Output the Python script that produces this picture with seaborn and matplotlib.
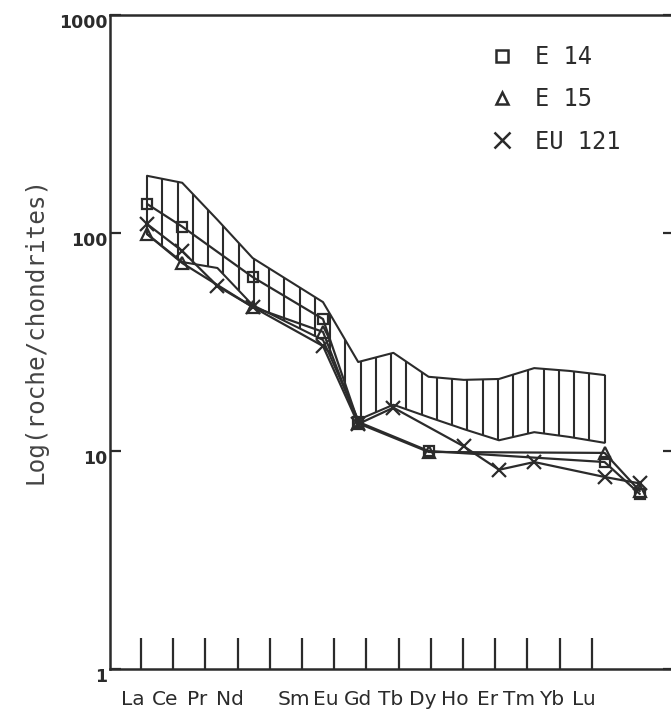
import numpy as np
import pandas as pd
import matplotlib
matplotlib.use("Agg")
import matplotlib.pyplot as plt
import matplotlib.transforms as mtransforms
import seaborn as sns
from matplotlib.lines import Line2D

sns.set_theme(style="white")
plt.rcParams['font.family'] = ['DejaVu Sans']

# REE order (Pm kept as an empty slot)
elements = ["La", "Ce", "Pr", "Nd", "Pm", "Sm", "Eu", "Gd", "Tb", "Dy", "Ho", "Er", "Tm", "Yb", "Lu"]
tick_labels = ["La", "Ce", "Pr", "Nd", "", "Sm", "Eu", "Gd", "Tb", "Dy", "Ho", "Er", "Tm", "Yb", "Lu"]
nan = np.nan

# chondrite-normalised values
e14 = [136, 107, nan, 62.8, nan, 40.3, 13.6, nan, 10.0, nan, nan, nan, nan, 8.9, 6.35]
e15 = [98.9, 72.8, nan, 45.8, nan, 35.2, 13.4, nan, 9.9, nan, nan, nan, nan, 9.8, 6.55]
eu121 = [110, 82.7, 57.1, 45.8, nan, 30.3, 13.3, 15.8, nan, 10.5, 8.2, 8.9, nan, 7.6, 7.1]

# hatched reference field
field_upper = [183, 170, 115, 76.8, nan, 48.2, 25.6, 28.2, 21.9, 21.2, 21.4, 24.0, 23.3, 22.3, nan]
field_lower = [98.9, 73.6, 69.1, 46.7, nan, 32.3, 13.9, 16.3, 14.3, 12.6, 11.2, 12.2, 11.6, 10.9, nan]

samples = {"E 14": e14, "E 15": e15, "EU 121": eu121}
markers = {"E 14": "s", "E 15": "^", "EU 121": "x"}
msizes = {"E 14": 7, "E 15": 8, "EU 121": 10}
ink = "#2b2b2b"

pos = np.arange(len(elements))
df = pd.DataFrame({"pos": pos, "element": elements, **samples})
long = df.melt(id_vars=["pos", "element"], var_name="sample", value_name="value").dropna()

field = pd.DataFrame({"pos": pos, "upper": field_upper, "lower": field_lower})

fig = plt.figure(figsize=(6.71, 7.2), dpi=100)
ax = fig.add_axes([110 / 671, 51 / 720, (674 - 110) / 671, 654 / 720])

# field outline
for col in ["upper", "lower"]:
    f = field[["pos", col]].dropna()
    sns.lineplot(x=f["pos"], y=f[col], color=ink, linewidth=1.5, ax=ax, estimator=None)

# vertical hatching of the field
fu = field.dropna()
xs = np.linspace(fu["pos"].min(), fu["pos"].max(), 31)
top = 10 ** np.interp(xs, fu["pos"], np.log10(fu["upper"]))
bot = 10 ** np.interp(xs, fu["pos"], np.log10(fu["lower"]))
ax.vlines(xs, bot, top, color=ink, linewidth=1.5)

# samples
for name, grp in long.groupby("sample"):
    sns.lineplot(data=grp, x="pos", y="value", color=ink, marker=markers[name],
                 markersize=msizes[name], mfc="none", mec=ink, mew=1.6,
                 estimator=None, linewidth=1.6, ax=ax)

ax.set_yscale("log")
ax.set_ylim(1, 1000)
ax.set_xlim((110 - 147) / 35.2, (674 - 147) / 35.2)
ax.set_yticks([1, 10, 100, 1000], ["1", "10", "100", "1000"])
ax.yaxis.set_minor_locator(matplotlib.ticker.NullLocator())
tick_pos = (141 - 147) / 35.2 + np.arange(15) * 32.2 / 35.2
ax.set_xticks(tick_pos, tick_labels)
ax.tick_params(axis="x", direction="in", length=22, width=1.6, pad=15,
               labelsize=14.5, colors=ink, bottom=True)
ax.tick_params(axis="y", direction="in", length=8, width=1.6, pad=2,
               labelsize=12.5, colors=ink, left=True, right=True)
yshift = mtransforms.ScaledTranslation(0, -6 / 100, fig.dpi_scale_trans)
for lab in ax.get_yticklabels():
    lab.set_fontweight("bold")
    lab.set_transform(lab.get_transform() + yshift)
xshift = mtransforms.ScaledTranslation(-8 / 100, 0, fig.dpi_scale_trans)
for lab in ax.get_xticklabels():
    lab.set_transform(lab.get_transform() + xshift)
ax.set_xlabel("")
ax.set_ylabel("")
for s in ax.spines.values():
    s.set_color(ink)
    s.set_linewidth(1.8)

fig.text(36 / 671, (720 - 330) / 720, "Log(roche/chondrites)", rotation=90,
         ha="center", va="center", fontsize=17.5, color="#444444",
         family="DejaVu Sans Mono")

handles = [Line2D([], [], ls="none", marker=markers[k], mfc="none", mec=ink,
                  mew=1.8, ms=msizes[k] + 1) for k in samples]
ax.legend(handles, list(samples), loc="upper left", frameon=False,
          bbox_to_anchor=(478 / 671, (720 - 33) / 720), bbox_transform=fig.transFigure,
          prop={"family": "DejaVu Sans Mono", "size": 17}, handlelength=1.0,
          handletextpad=0.9, labelspacing=0.78, borderpad=0, labelcolor=ink)

fig.savefig("out.png", dpi=100)
